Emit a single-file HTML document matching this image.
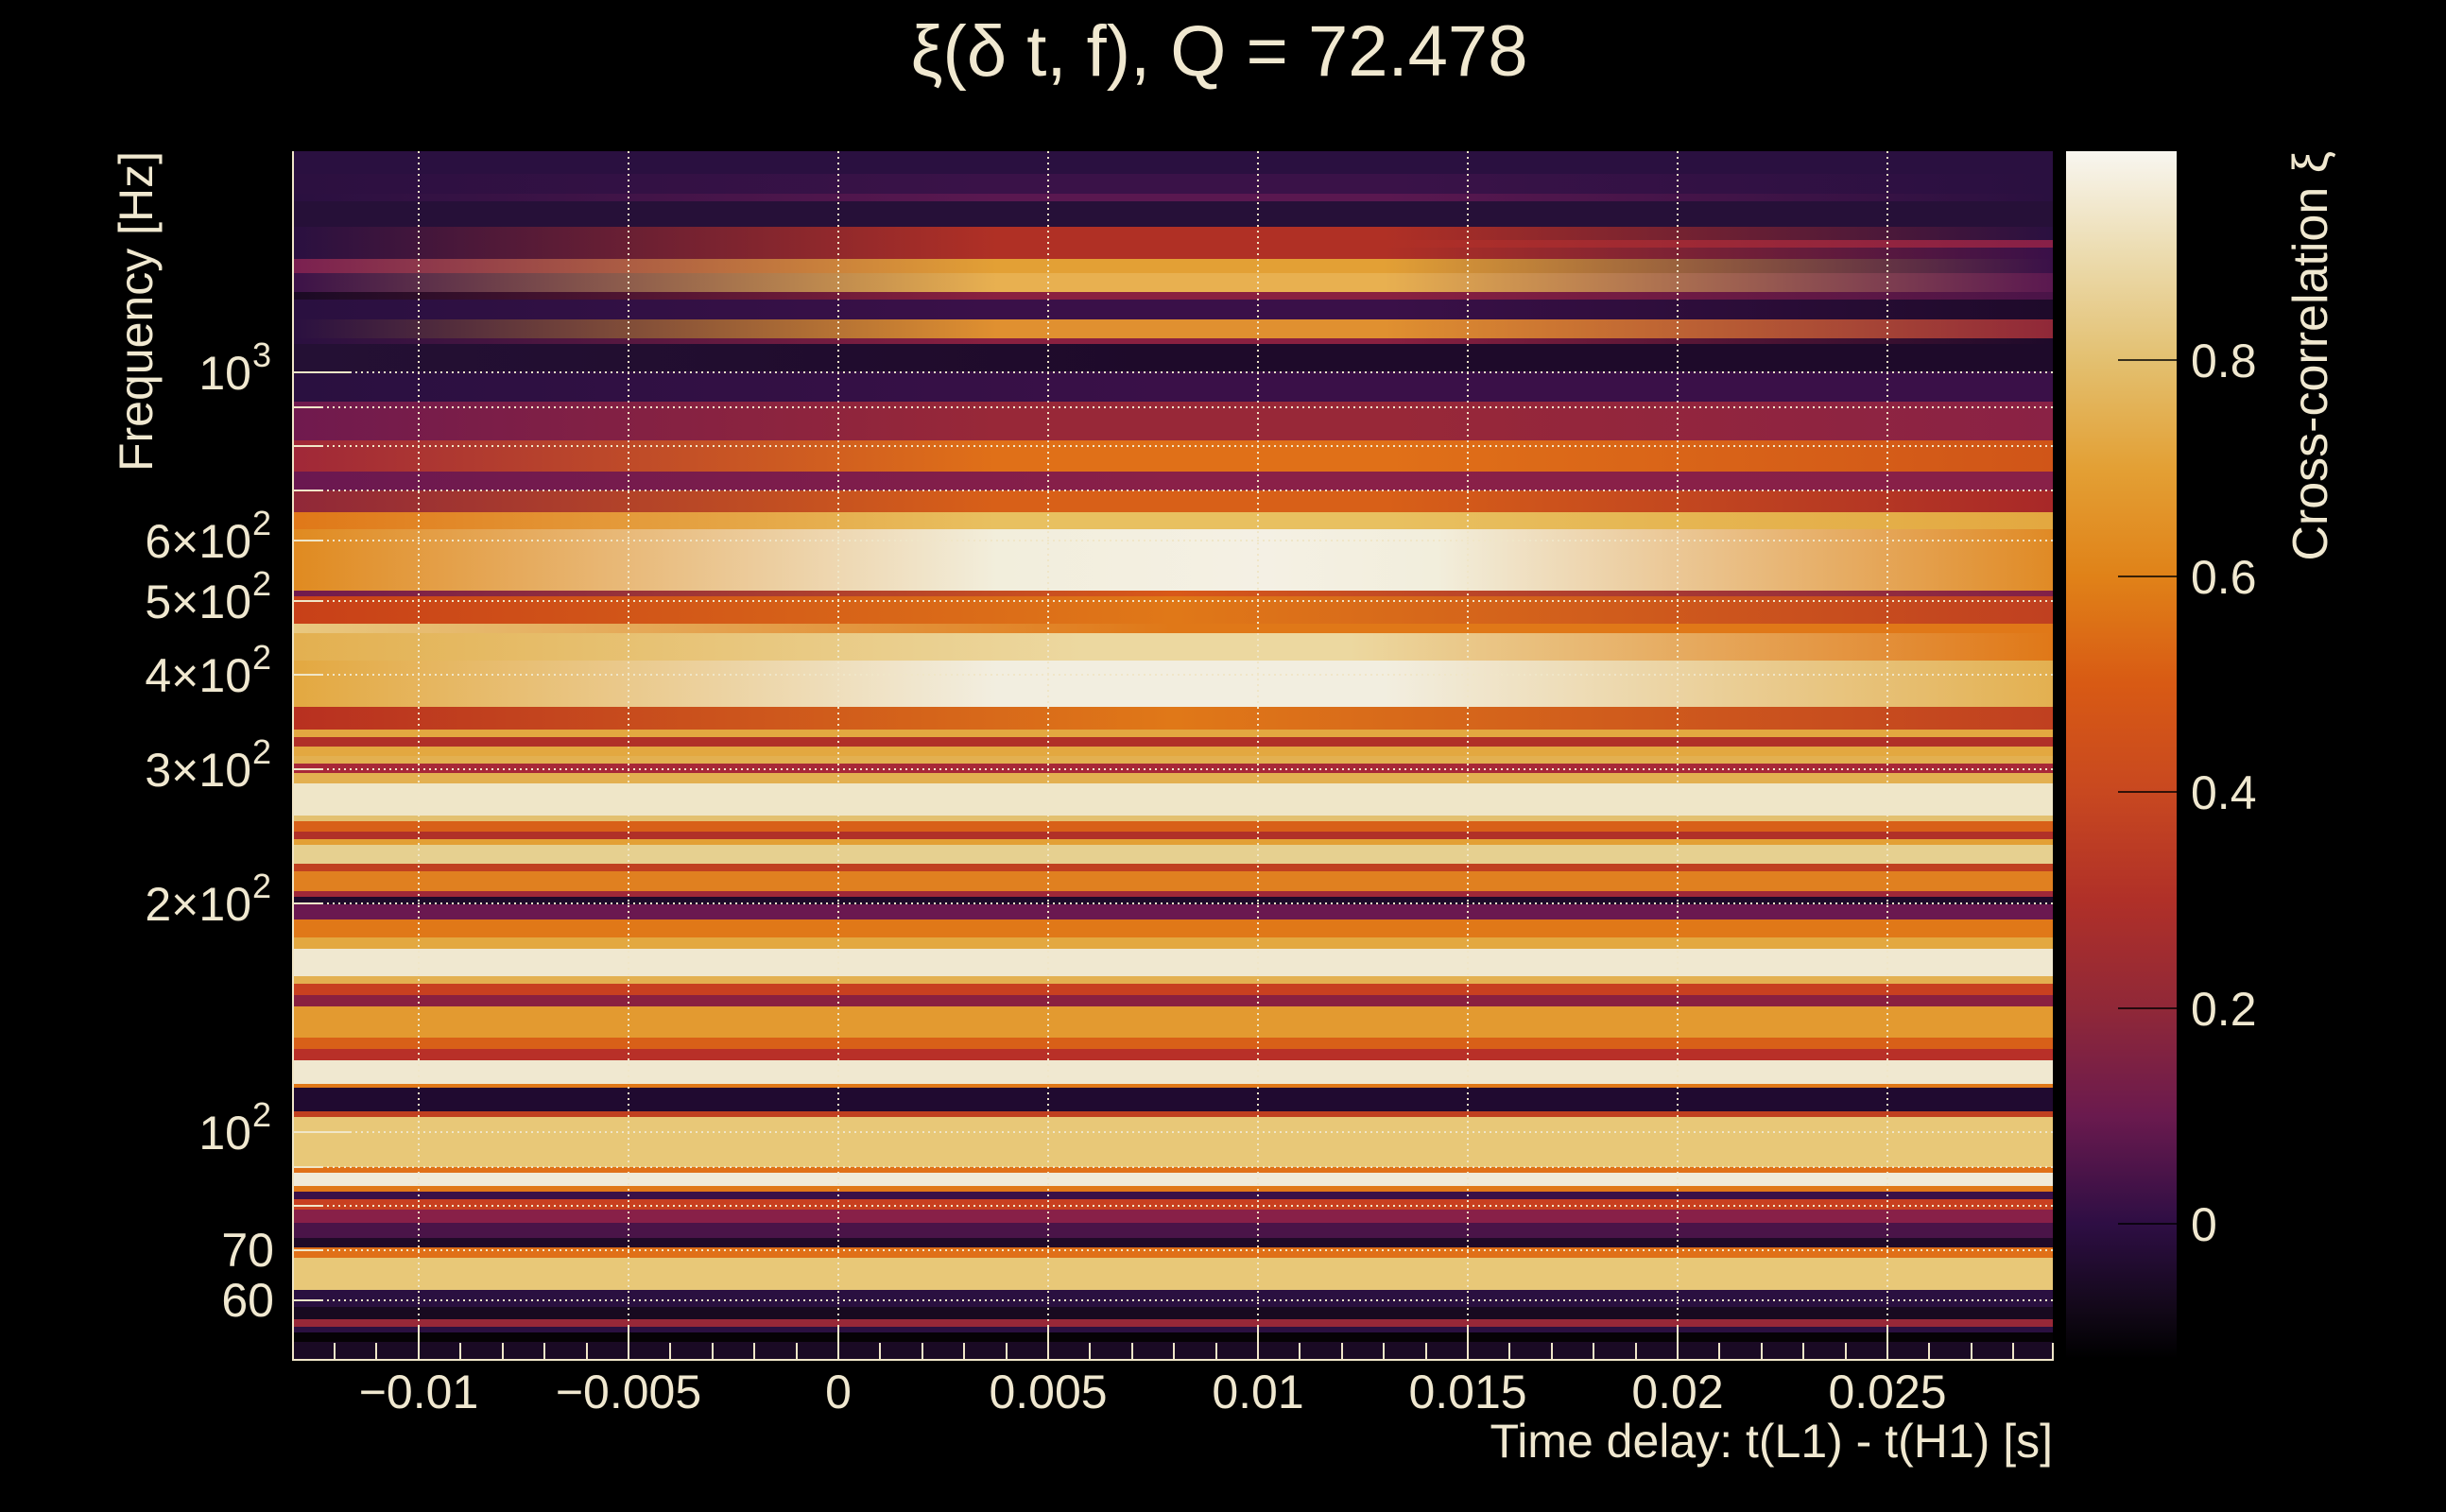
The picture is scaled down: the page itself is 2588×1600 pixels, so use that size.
<!DOCTYPE html>
<html><head><meta charset="utf-8"><style>
body{margin:0;background:#000;width:2588px;height:1600px;overflow:hidden;position:relative;font-family:"Liberation Sans",sans-serif}
#plot{position:absolute;left:310px;top:160px;width:1862px;height:1278px;overflow:hidden;background:#2a1040}
#plot div{position:absolute;left:0;width:100%}
#cb{position:absolute;left:2186px;top:160px;width:117px;height:1278px;background:linear-gradient(to bottom,#f8f6f0 0%,#ecdcb0 8.4%,#e3c070 17.3%,#e3a035 26.2%,#e08218 35.2%,#d85a14 44.1%,#c84820 53.1%,#b03028 62%,#902838 71%,#6a1a4e 79.9%,#2e0e44 88.8%,#120818 96%,#000 100%)}
svg{position:absolute;left:0;top:0}
</style></head><body>
<div id="plot">
<div style="top:0;height:24px;background:#2a1040"></div>
<div style="top:24px;height:21px;background:linear-gradient(90deg,#2c1040 0%,#3a1248 40%,#3a1248 62%,#2a1040 100%)"></div>
<div style="top:45px;height:8px;background:linear-gradient(90deg,#2a1040 0%,#5a1850 40%,#5a1850 62%,#2a1040 100%)"></div>
<div style="top:53px;height:27px;background:#261038"></div>
<div style="top:80px;height:14px;background:linear-gradient(90deg,#2a1040 0%,#b03025 40%,#b03025 62%,#2a1040 100%)"></div>
<div style="top:94px;height:8px;background:linear-gradient(90deg,#2a1040 0%,#b03025 40%,#b03025 62%,#882048 100%)"></div>
<div style="top:102px;height:12px;background:linear-gradient(90deg,#2a1040 0%,#b03025 40%,#b03025 62%,#3a1048 100%)"></div>
<div style="top:114px;height:15px;background:linear-gradient(90deg,#7a2050 0%,#e3a035 40%,#e3a035 62%,#3a1048 100%)"></div>
<div style="top:129px;height:20px;background:linear-gradient(90deg,#3c1248 0%,#e8b050 40%,#e8b050 62%,#5a1850 100%)"></div>
<div style="top:149px;height:8px;background:linear-gradient(90deg,#1a0a24 0%,#8a2040 40%,#8a2040 62%,#4a1448 100%)"></div>
<div style="top:157px;height:21px;background:linear-gradient(90deg,#2a1040 0%,#3a1048 40%,#3a1048 62%,#1e0a2a 100%)"></div>
<div style="top:178px;height:20px;background:linear-gradient(90deg,#2a1040 0%,#e09030 40%,#e09030 62%,#902838 100%)"></div>
<div style="top:198px;height:6px;background:linear-gradient(90deg,#2a1040 0%,#8a2040 40%,#8a2040 62%,#1e0a2a 100%)"></div>
<div style="top:204px;height:29px;background:linear-gradient(90deg,#241034 0%,#1e0a2a 50%,#1e0a2a 100%)"></div>
<div style="top:233px;height:32px;background:linear-gradient(90deg,#2a1040 0%,#3a1048 50%,#3a1048 100%)"></div>
<div style="top:265px;height:41px;background:linear-gradient(90deg,#701a4e 0%,#982838 40%,#982838 62%,#8a2245 100%)"></div>
<div style="top:306px;height:33px;background:linear-gradient(90deg,#a02838 0%,#e07018 40%,#e07018 62%,#d05518 100%)"></div>
<div style="top:339px;height:20px;background:linear-gradient(90deg,#6a1850 0%,#8a2048 50%,#882048 100%)"></div>
<div style="top:359px;height:23px;background:linear-gradient(90deg,#902838 0%,#d86018 40%,#d86018 62%,#a82828 100%)"></div>
<div style="top:382px;height:18px;background:linear-gradient(90deg,#e07818 0%,#e8c060 40%,#e8c060 62%,#e3a840 100%)"></div>
<div style="top:400px;height:65px;background:linear-gradient(90deg,#e08a20 0%,#f2eedc 40%,#f4f0e4 55%,#f2eedc 65%,#e08a25 100%)"></div>
<div style="top:465px;height:6px;background:linear-gradient(90deg,#701a4e 0%,#d85818 50%,#802048 100%)"></div>
<div style="top:471px;height:29px;background:linear-gradient(90deg,#c84018 0%,#e07818 50%,#c04020 100%)"></div>
<div style="top:500px;height:10px;background:linear-gradient(90deg,#e8c880 0%,#e07818 50%,#e07818 100%)"></div>
<div style="top:510px;height:29px;background:linear-gradient(90deg,#e3b050 0%,#ecd8a0 45%,#ecd8a0 60%,#e07818 100%)"></div>
<div style="top:539px;height:49px;background:linear-gradient(90deg,#e3a840 0%,#f2eee0 40%,#f2eee0 62%,#e3b050 100%)"></div>
<div style="top:588px;height:24px;background:linear-gradient(90deg,#b83020 0%,#e07818 50%,#c04020 100%)"></div>
<div style="top:612px;height:8px;background:#e3a840"></div>
<div style="top:620px;height:10px;background:#b03028"></div>
<div style="top:630px;height:10px;background:#e3a840"></div>
<div style="top:640px;height:8px;background:#e3b050"></div>
<div style="top:648px;height:10px;background:#a82838"></div>
<div style="top:658px;height:11px;background:#e3b050"></div>
<div style="top:669px;height:34px;background:#efe6c8"></div>
<div style="top:703px;height:6px;background:#e3c070"></div>
<div style="top:709px;height:11px;background:#d86018"></div>
<div style="top:720px;height:8px;background:#b03028"></div>
<div style="top:728px;height:6px;background:#e3a035"></div>
<div style="top:734px;height:20px;background:#e6d090"></div>
<div style="top:754px;height:8px;background:#c04020"></div>
<div style="top:762px;height:21px;background:#e08020"></div>
<div style="top:783px;height:6px;background:#a02838"></div>
<div style="top:789px;height:8px;background:#1e0a2a"></div>
<div style="top:797px;height:16px;background:#6a1850"></div>
<div style="top:813px;height:19px;background:#e07818"></div>
<div style="top:832px;height:12px;background:#e3a840"></div>
<div style="top:844px;height:29px;background:#f0e8d0"></div>
<div style="top:873px;height:8px;background:#e3b050"></div>
<div style="top:881px;height:12px;background:#c84020"></div>
<div style="top:893px;height:12px;background:#8a2040"></div>
<div style="top:905px;height:33px;background:#e39a30"></div>
<div style="top:938px;height:12px;background:#d86018"></div>
<div style="top:950px;height:12px;background:#b83028"></div>
<div style="top:962px;height:25px;background:#f0e8d0"></div>
<div style="top:987px;height:4px;background:#e07818"></div>
<div style="top:991px;height:25px;background:#200a30"></div>
<div style="top:1016px;height:6px;background:#c04020"></div>
<div style="top:1022px;height:53px;background:#e8c878"></div>
<div style="top:1075px;height:6px;background:#e07018"></div>
<div style="top:1081px;height:14px;background:#f0ead8"></div>
<div style="top:1095px;height:6px;background:#e07818"></div>
<div style="top:1101px;height:8px;background:#3a1048"></div>
<div style="top:1109px;height:11px;background:#c84020"></div>
<div style="top:1120px;height:14px;background:#882048"></div>
<div style="top:1134px;height:16px;background:#4a1448"></div>
<div style="top:1150px;height:10px;background:#200a28"></div>
<div style="top:1160px;height:11px;background:#e07018"></div>
<div style="top:1171px;height:34px;background:#e8c878"></div>
<div style="top:1205px;height:18px;background:#2a1040"></div>
<div style="top:1223px;height:13px;background:#180a20"></div>
<div style="top:1236px;height:8px;background:#982838"></div>
<div style="top:1244px;height:6px;background:#2a1040"></div>
<div style="top:1250px;height:10px;background:#050205"></div>
<div style="top:1260px;height:18px;background:#1a0a24"></div>
</div>
<div id="cb"></div>
<svg width="2588" height="1600" xmlns="http://www.w3.org/2000/svg">
<g stroke="#f0e6c8" stroke-width="2" stroke-dasharray="2 4" fill="none">
<line x1="443" y1="160" x2="443" y2="1438"/><line x1="665" y1="160" x2="665" y2="1438"/><line x1="887" y1="160" x2="887" y2="1438"/><line x1="1109" y1="160" x2="1109" y2="1438"/><line x1="1331" y1="160" x2="1331" y2="1438"/><line x1="1553" y1="160" x2="1553" y2="1438"/><line x1="1775" y1="160" x2="1775" y2="1438"/><line x1="1997" y1="160" x2="1997" y2="1438"/>
<line x1="310" y1="1376" x2="2172" y2="1376"/><line x1="310" y1="1323" x2="2172" y2="1323"/><line x1="310" y1="1276" x2="2172" y2="1276"/><line x1="310" y1="1235" x2="2172" y2="1235"/><line x1="310" y1="1198" x2="2172" y2="1198"/><line x1="310" y1="956" x2="2172" y2="956"/><line x1="310" y1="814" x2="2172" y2="814"/><line x1="310" y1="714" x2="2172" y2="714"/><line x1="310" y1="636" x2="2172" y2="636"/><line x1="310" y1="572" x2="2172" y2="572"/><line x1="310" y1="519" x2="2172" y2="519"/><line x1="310" y1="472" x2="2172" y2="472"/><line x1="310" y1="431" x2="2172" y2="431"/><line x1="310" y1="394" x2="2172" y2="394"/>
</g>
<g stroke="#f0e6c8" stroke-width="2">
<line x1="310" y1="160" x2="310" y2="1439"/><line x1="309" y1="1439" x2="2173" y2="1439"/>
<line x1="310" y1="1198" x2="372" y2="1198"/><line x1="310" y1="394" x2="372" y2="394"/>
<line x1="310" y1="1376" x2="340" y2="1376"/><line x1="310" y1="1323" x2="340" y2="1323"/><line x1="310" y1="1276" x2="340" y2="1276"/><line x1="310" y1="1235" x2="340" y2="1235"/><line x1="310" y1="956" x2="340" y2="956"/><line x1="310" y1="814" x2="340" y2="814"/><line x1="310" y1="714" x2="340" y2="714"/><line x1="310" y1="636" x2="340" y2="636"/><line x1="310" y1="572" x2="340" y2="572"/><line x1="310" y1="519" x2="340" y2="519"/><line x1="310" y1="472" x2="340" y2="472"/><line x1="310" y1="431" x2="340" y2="431"/>
<path d="M354 1439v-18M398 1439v-18M443 1439v-36M487 1439v-18M532 1439v-18M576 1439v-18M621 1439v-18M665 1439v-36M709 1439v-18M754 1439v-18M798 1439v-18M843 1439v-18M887 1439v-36M931 1439v-18M976 1439v-18M1020 1439v-18M1065 1439v-18M1109 1439v-36M1153 1439v-18M1198 1439v-18M1242 1439v-18M1287 1439v-18M1331 1439v-36M1375 1439v-18M1420 1439v-18M1464 1439v-18M1509 1439v-18M1553 1439v-36M1597 1439v-18M1642 1439v-18M1686 1439v-18M1731 1439v-18M1775 1439v-36M1819 1439v-18M1864 1439v-18M1908 1439v-18M1953 1439v-18M1997 1439v-36M2041 1439v-18M2086 1439v-18M2130 1439v-18M2172 1439v-18"/>
</g>
<g stroke="#000" stroke-width="1.5">
<line x1="2241" y1="381" x2="2303" y2="381"/><line x1="2241" y1="610" x2="2303" y2="610"/><line x1="2241" y1="838" x2="2303" y2="838"/><line x1="2241" y1="1067" x2="2303" y2="1067"/><line x1="2241" y1="1295" x2="2303" y2="1295"/>
</g>
<g fill="#f0e8d0" font-family="Liberation Sans, DejaVu Sans, sans-serif">
<text x="1290" y="80" font-size="76" text-anchor="middle">ξ(δ t, f), Q = 72.478</text>
<g font-size="50" text-anchor="middle">
<text x="443" y="1490">−0.01</text><text x="665" y="1490">−0.005</text><text x="887" y="1490">0</text><text x="1109" y="1490">0.005</text><text x="1331" y="1490">0.01</text><text x="1553" y="1490">0.015</text><text x="1775" y="1490">0.02</text><text x="1997" y="1490">0.025</text>
</g>
<text x="2172" y="1542" font-size="50" text-anchor="end">Time delay: t(L1) - t(H1) [s]</text>
<g font-size="50" text-anchor="end">
<text x="290" y="1393">60</text><text x="290" y="1340">70</text>
<text x="266" y="1216">10</text>
<text x="266" y="974">2×10</text>
<text x="266" y="832">3×10</text>
<text x="266" y="732">4×10</text>
<text x="266" y="654">5×10</text>
<text x="266" y="590">6×10</text>
<text x="266" y="412">10</text>
</g>
<g font-size="36">
<text x="267" y="1192">2</text><text x="267" y="950">2</text><text x="267" y="808">2</text><text x="267" y="708">2</text><text x="267" y="630">2</text><text x="267" y="566">2</text><text x="267" y="388">3</text>
</g>
<text transform="translate(161,160) rotate(-90)" font-size="50" text-anchor="end">Frequency [Hz]</text>
<g font-size="50">
<text x="2318" y="399">0.8</text><text x="2318" y="628">0.6</text><text x="2318" y="856">0.4</text><text x="2318" y="1085">0.2</text><text x="2318" y="1313">0</text>
</g>
<text transform="translate(2462,160) rotate(-90)" font-size="52" text-anchor="end">Cross-correlation ξ</text>
</g>
</svg>
</body></html>
